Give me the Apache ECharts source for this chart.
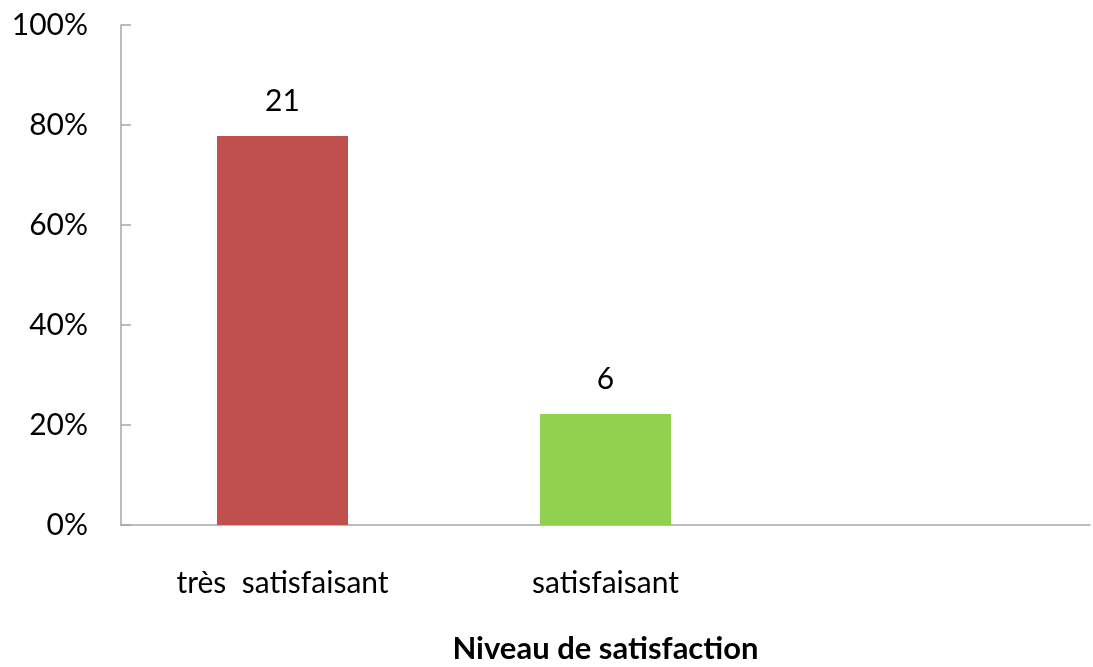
<!DOCTYPE html>
<html>
<head>
<meta charset="utf-8">
<script src="https://cdn.jsdelivr.net/npm/echarts@6/dist/echarts.min.js"></script>
<style>
  html, body { margin: 0; padding: 0; background: #fff }
  #chart { width: 1093px; height: 667px }
</style>
</head>
<body>
<div id="chart"></div>
<script>
// niveaux de satisfaction (la 3e catégorie est vide)
const categories = ['très  satisfaisant', 'satisfaisant', '']
const percents = [77.8, 22.2, null]
const counts = [21, 6, null]
const barColors = ['#c0504d', '#92d050', '#4f81bd']
const yTicks = [0, 20, 40, 60, 80, 100]

const font = 'Lato, "Open Sans", sans-serif'
const chart = echarts.init(document.getElementById('chart'))

chart.setOption({
  animation: false,
  grid: { left: 121, right: 3, top: 25, bottom: 142, outerBoundsMode: 'none' },
  xAxis: {
    type: 'category',
    data: categories,
    name: 'Niveau de satisfaction',
    nameLocation: 'middle',
    nameGap: 108,
    nameTextStyle: { fontFamily: font, fontSize: 31, fontWeight: 'bold', color: '#000' },
    axisLine: { lineStyle: { color: '#a6a6a6', width: 1.5 } },
    axisTick: { show: false },
    axisLabel: { fontFamily: font, fontSize: 30, color: '#000', margin: 43 }
  },
  yAxis: {
    type: 'value',
    min: yTicks[0],
    max: yTicks[yTicks.length - 1],
    interval: 20,
    axisLine: { show: true, lineStyle: { color: '#a6a6a6', width: 1.5 } },
    axisTick: { show: true, inside: true, length: 10, lineStyle: { color: '#a6a6a6', width: 1.5 } },
    splitLine: { show: false },
    axisLabel: { fontFamily: font, fontSize: 30, color: '#000', margin: 33, formatter: '{value}%' }
  },
  series: [{
    type: 'bar',
    barWidth: 131,
    data: percents.map((v, i) => ({ value: v, itemStyle: { color: barColors[i] } })),
    label: {
      show: true,
      position: 'top',
      distance: 20,
      fontFamily: font,
      fontSize: 30,
      color: '#000',
      formatter: p => counts[p.dataIndex] == null ? '' : String(counts[p.dataIndex])
    }
  }]
})
</script>
</body>
</html>
